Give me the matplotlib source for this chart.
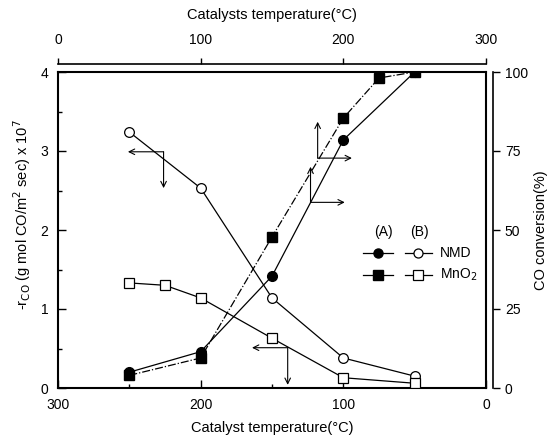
import matplotlib
matplotlib.use("Agg")
import matplotlib.pyplot as plt
from matplotlib.lines import Line2D
from matplotlib.ticker import MultipleLocator

plt.rcParams["font.family"] = ["Liberation Sans", "DejaVu Sans"]

# (B) reaction rate, left axis, bottom temperature scale
temp_b_nmd = [250, 200, 150, 100, 50]
rate_nmd = [3.24, 2.53, 1.14, 0.38, 0.15]
temp_b_mno2 = [250, 225, 200, 150, 100, 50]
rate_mno2 = [1.33, 1.30, 1.14, 0.63, 0.13, 0.06]

# (A) CO conversion, right axis, top temperature scale
temp_a_nmd = [50, 100, 150, 200, 250]
conv_nmd = [5.0, 11.5, 35.4, 78.5, 100.0]
temp_a_mno2 = [50, 100, 150, 200, 225, 250]
conv_mno2 = [4.0, 9.5, 47.8, 85.4, 98.1, 100.0]

W, H = 553, 441
fig = plt.figure(figsize=(W / 100, H / 100), dpi=100)
rect = [58 / W, 1 - 388 / H, (486 - 58) / W, (388 - 72) / H]

ax = fig.add_axes(rect)
ax2 = fig.add_axes(rect)
ax2.patch.set_visible(False)

# main frame: left / bottom scales
ax.set_xlim(300, 0)
ax.set_ylim(0, 4)
ax.xaxis.set_major_locator(MultipleLocator(100))
ax.xaxis.set_minor_locator(MultipleLocator(50))
ax.yaxis.set_major_locator(MultipleLocator(1))
ax.yaxis.set_minor_locator(MultipleLocator(0.5))
ax.tick_params(which="both", direction="in", top=False, right=False,
               labelsize=10, width=1)
ax.tick_params(which="major", length=6)
ax.tick_params(which="minor", length=3)
ax.tick_params(axis="x", pad=7)
ax.tick_params(axis="y", pad=7)
for s in ax.spines.values():
    s.set_linewidth(1.5)

# secondary scales: top / right, offset from the frame
ax2.set_xlim(0, 300)
ax2.set_ylim(0, 100)
ax2.xaxis.tick_top()
ax2.yaxis.tick_right()
ax2.xaxis.set_major_locator(MultipleLocator(100))
ax2.yaxis.set_major_locator(MultipleLocator(25))
ax2.tick_params(which="both", direction="out", labelsize=10, width=1, length=5)
ax2.tick_params(axis="x", length=4, pad=8)
ax2.spines["left"].set_visible(False)
ax2.spines["bottom"].set_visible(False)
ax2.spines["top"].set_position(("outward", 6))
ax2.spines["right"].set_position(("outward", 5))
ax2.spines["top"].set_linewidth(1.2)
ax2.spines["right"].set_linewidth(1.2)

# rate curves (B)
ax.plot(temp_b_nmd, rate_nmd, "-", color="black", lw=0.9, marker="o",
        ms=7, mfc="white", mec="black", mew=0.9, zorder=3)
ax.plot(temp_b_mno2, rate_mno2, "-", color="black", lw=0.9, marker="s",
        ms=6.5, mfc="white", mec="black", mew=0.9, zorder=3)

# conversion curves (A)
ax2.plot(temp_a_nmd, conv_nmd, "-", color="black", lw=0.9, marker="o",
         ms=7, mfc="black", mec="black", zorder=3)
ax2.plot(temp_a_mno2, conv_mno2, "-.", color="black", lw=0.9, marker="s",
         ms=6.5, mfc="black", mec="black", zorder=3)

# axis-pointer arrows
arrows = [
    ((226, 2.99), (251, 2.99)), ((226, 2.99), (226, 2.53)),
    ((139, 0.51), (164, 0.51)), ((139, 0.51), (139, 0.04)),
    ((118, 2.91), (118, 3.37)), ((118, 2.91), (94, 2.91)),
    ((123, 2.35), (123, 2.80)), ((123, 2.35), (99, 2.35)),
]
for start, end in arrows:
    ax.annotate("", xy=end, xytext=start,
                arrowprops=dict(arrowstyle="->", color="black", lw=0.8,
                                shrinkA=0, shrinkB=0))

# legend drawn by hand
def fx(px):
    return px / W

def fy(py):
    return 1 - py / H

fig.text(fx(383), fy(232), "(A)", ha="center", va="center", fontsize=10)
fig.text(fx(419), fy(232), "(B)", ha="center", va="center", fontsize=10)
for py, mk, name in [(253, "o", "NMD"), (275, "s", "MnO$_2$")]:
    fig.add_artist(Line2D([fx(363), fx(393)], [fy(py), fy(py)], color="black",
                          lw=0.9, transform=fig.transFigure))
    fig.add_artist(Line2D([fx(378)], [fy(py)], color="black", lw=0, marker=mk,
                          ms=6.5, mfc="black", mec="black",
                          transform=fig.transFigure))
    fig.add_artist(Line2D([fx(405), fx(432)], [fy(py), fy(py)], color="black",
                          lw=0.9, transform=fig.transFigure))
    fig.add_artist(Line2D([fx(418)], [fy(py)], color="black", lw=0, marker=mk,
                          ms=6.5, mfc="white", mec="black", mew=0.9,
                          transform=fig.transFigure))
    fig.text(fx(440), fy(py), name, ha="left", va="center", fontsize=10)

# axis titles
fig.text(fx(272), fy(428), "Catalyst temperature(\u00b0C)", ha="center",
         va="center", fontsize=10.5)
fig.text(fx(272), fy(15), "Catalysts temperature(\u00b0C)", ha="center",
         va="center", fontsize=10.5)
fig.text(fx(22), fy(215),
         "-r$_{\\rm CO}$ (g mol CO/m$^2$ sec) x 10$^7$",
         ha="center", va="center", rotation=90, fontsize=10.5)
fig.text(fx(541), fy(230), "CO conversion(%)", ha="center", va="center",
         rotation=90, fontsize=10.5)

fig.savefig("out.png", dpi=100)
